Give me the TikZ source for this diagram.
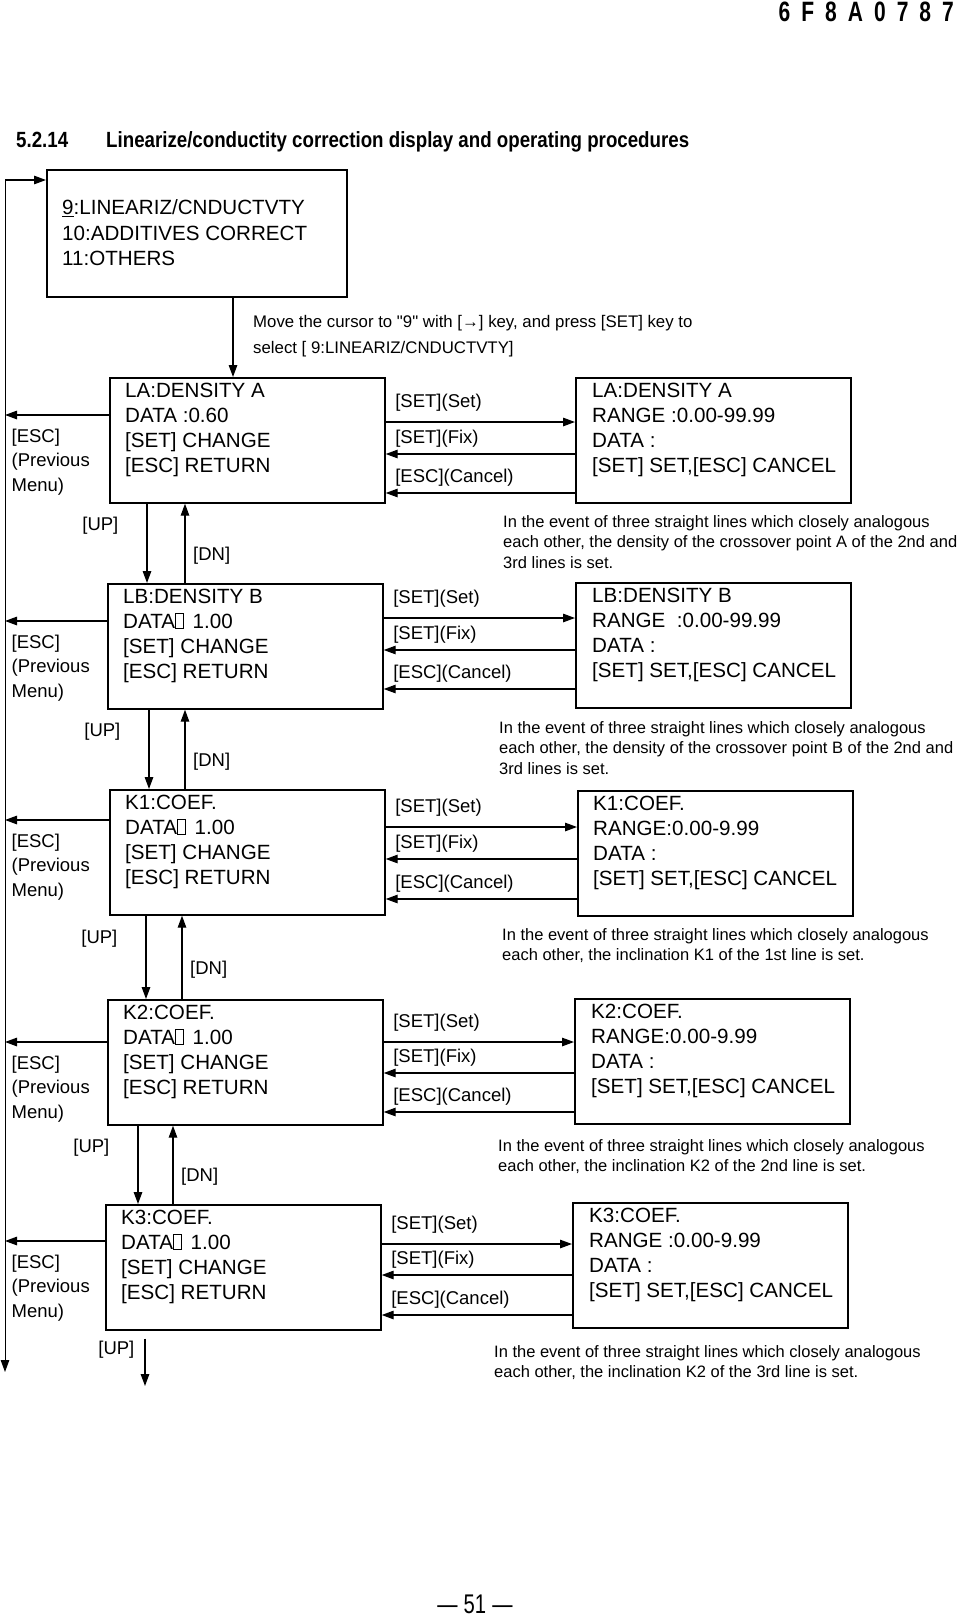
\documentclass[tikz,border=0pt]{standalone}
\usepackage{fontspec}
\setmainfont{Liberation Sans}
\newfontfamily\narrowfont[FakeStretch=0.85]{Liberation Sans}
\newfontfamily\hdrfont[FakeStretch=0.75]{Liberation Sans}
\usetikzlibrary{arrows.meta,positioning}
\newcommand{\tofu}{{\setlength{\fboxsep}{0pt}\setlength{\fboxrule}{0.5pt}\fbox{\rule{0pt}{0.7em}\hspace{0.38em}}}\hspace{0.15em}}
\newcommand{\scrfont}{\fontsize{20.6}{25.3}\selectfont}
\newcommand{\lblfont}{\fontsize{18.5}{24.5}\selectfont}
\newcommand{\notefont}{\fontsize{16.5}{20.6}\selectfont}

\begin{document}
\begin{tikzpicture}[x=1pt,y=-1pt,>={Triangle[length=12pt,width=8.5pt]},line join=miter]
\tikzset{
  screen/.style={draw,line width=1.7pt,anchor=north west,inner sep=0pt,
    minimum width=275pt,minimum height=125pt},
  scrtext/.style={font=\scrfont,align=left,inner sep=0pt},
  key/.style={->,line width=1.3pt},
  keylbl/.style={font=\lblfont,inner sep=0pt,pos=0,anchor=south west,xshift=9pt,yshift=6pt},
  setlbl/.style={yshift=4pt},
  esclbl/.style={font=\lblfont,align=left,inner sep=0pt,pos=1,anchor=north west,xshift=6pt,yshift=-13pt},
  uplbl/.style={font=\lblfont,inner sep=0pt,pos=.28,left=28pt},
  dnlbl/.style={font=\lblfont,inner sep=0pt,pos=.35,right=7.5pt},
  note/.style={font=\notefont,align=left,inner sep=0pt,anchor=north west}
}
\useasboundingbox (0,0) rectangle (956,1616);
% Kopf der Seite
\node[anchor=base east,inner sep=0pt,font=\hdrfont\bfseries\fontsize{28}{30}\selectfont] (docno) at (954,22)
  {\spaceskip=11pt\relax 6 F 8 A 0 7 8 7};
\node[anchor=base west,inner sep=0pt,font=\narrowfont\bfseries\fontsize{22}{26}\selectfont] (secnum) at (16,148) {5.2.14};
\node[anchor=base west,inner sep=0pt,font=\narrowfont\bfseries\fontsize{22}{26}\selectfont] (sectitle) at (106,148)
  {Linearize/conductity correction display and operating procedures};
% Menue und Ruecksprung
\node[screen,minimum width=300pt,minimum height=127pt] (menu) at (46,169) {};
\node[scrtext,below right=30.6pt and 16pt of menu.north west] (menu-t)
  {\underline{9}:LINEARIZ/CNDUCTVTY\\10:ADDITIVES CORRECT\\11:OTHERS};
\coordinate (looptop) at (5,180);
\coordinate (loopbot) at (5,1372);
\draw[key,line width=1pt] (looptop) -- (loopbot);
\draw[key] (looptop) -- (menu.west |- looptop);
\node[note,font=\fontsize{16.8}{25.8}\selectfont] (hint) at (253,315)
  {Move the cursor to \textquotedbl 9\textquotedbl\ with [→] key, and press [SET] key to\\select [ 9:LINEARIZ/CNDUCTVTY]};
% LA
\node[screen] (la) at (109,377) {};
\node[screen] (laR) at (575,377) {};
\node[scrtext,below right=5.5pt and 16pt of la.north west] (la-t)
  {LA:DENSITY A\\DATA :0.60\\{}[SET] CHANGE\\{}[ESC] RETURN};
\node[scrtext,below right=5.5pt and 17pt of laR.north west] (laR-t)
  {LA:DENSITY A\\RANGE :0.00-99.99\\DATA :\\{}[SET] SET,[ESC] CANCEL};
\draw[key] (menu.south -| 233,0) -- (la.north -| 233,0);
\draw[key] (la.east |- 0,422) -- (laR.west |- 0,422) node[keylbl,setlbl] (la-set) {[SET](Set)};
\draw[key,<-] (la.east |- 0,454) -- (laR.west |- 0,454) node[keylbl] (la-fix) {[SET](Fix)};
\draw[key,<-] (la.east |- 0,493) -- (laR.west |- 0,493) node[keylbl] (la-cnc) {[ESC](Cancel)};
\draw[key] (la.west |- 0,415) -- (loopbot |- 0,415) node[esclbl] (la-esc) {[ESC]\\(Previous\\Menu)};
\node[note] (la-note) at (503,515) {In the event of three straight lines which closely analogous\\
  each other, the density of the crossover point A of the 2nd and\\3rd lines is set.};
% LB
\node[screen] (lb) at (107,583) {};
\node[screen] (lbR) at (575,582) {};
\node[scrtext,below right=5.5pt and 16pt of lb.north west] (lb-t)
  {LB:DENSITY B\\DATA\tofu\ 1.00\\{}[SET] CHANGE\\{}[ESC] RETURN};
\node[scrtext,below right=5.5pt and 17pt of lbR.north west] (lbR-t)
  {LB:DENSITY B\\RANGE~~:0.00-99.99\\DATA :\\{}[SET] SET,[ESC] CANCEL};
\draw[key] (la.south -| 147,0) -- (lb.north -| 147,0) node[uplbl] (ab-up) {[UP]};
\draw[key] (lb.north -| 185,0) -- (la.south -| 185,0) node[dnlbl] (ab-dn) {[DN]};
\draw[key] (lb.east |- 0,618) -- (lbR.west |- 0,618) node[keylbl,setlbl] (lb-set) {[SET](Set)};
\draw[key,<-] (lb.east |- 0,650) -- (lbR.west |- 0,650) node[keylbl] (lb-fix) {[SET](Fix)};
\draw[key,<-] (lb.east |- 0,689) -- (lbR.west |- 0,689) node[keylbl] (lb-cnc) {[ESC](Cancel)};
\draw[key] (lb.west |- 0,621) -- (loopbot |- 0,621) node[esclbl] (lb-esc) {[ESC]\\(Previous\\Menu)};
\node[note] (lb-note) at (499,721) {In the event of three straight lines which closely analogous\\
  each other, the density of the crossover point B of the 2nd and\\3rd lines is set.};
% K1
\node[screen] (k1) at (109,789) {};
\node[screen] (k1R) at (577,790) {};
\node[scrtext,below right=5.5pt and 16pt of k1.north west] (k1-t)
  {K1:COEF.\\DATA\tofu\ 1.00\\{}[SET] CHANGE\\{}[ESC] RETURN};
\node[scrtext,below right=5.5pt and 16pt of k1R.north west] (k1R-t)
  {K1:COEF.\\RANGE:0.00-9.99\\DATA :\\{}[SET] SET,[ESC] CANCEL};
\draw[key] (lb.south -| 149,0) -- (k1.north -| 149,0) node[uplbl] (bk-up) {[UP]};
\draw[key] (k1.north -| 185,0) -- (lb.south -| 185,0) node[dnlbl] (bk-dn) {[DN]};
\draw[key] (k1.east |- 0,827) -- (k1R.west |- 0,827) node[keylbl,setlbl] (k1-set) {[SET](Set)};
\draw[key,<-] (k1.east |- 0,859) -- (k1R.west |- 0,859) node[keylbl] (k1-fix) {[SET](Fix)};
\draw[key,<-] (k1.east |- 0,899) -- (k1R.west |- 0,899) node[keylbl] (k1-cnc) {[ESC](Cancel)};
\draw[key] (k1.west |- 0,820) -- (loopbot |- 0,820) node[esclbl] (k1-esc) {[ESC]\\(Previous\\Menu)};
\node[note] (k1-note) at (502,928) {In the event of three straight lines which closely analogous\\
  each other, the inclination K1 of the 1st line is set.};
% K2
\node[screen] (k2) at (107,999) {};
\node[screen] (k2R) at (574,998) {};
\node[scrtext,below right=5.5pt and 16pt of k2.north west] (k2-t)
  {K2:COEF.\\DATA\tofu\ 1.00\\{}[SET] CHANGE\\{}[ESC] RETURN};
\node[scrtext,below right=5.5pt and 17pt of k2R.north west] (k2R-t)
  {K2:COEF.\\RANGE:0.00-9.99\\DATA :\\{}[SET] SET,[ESC] CANCEL};
\draw[key] (k1.south -| 146,0) -- (k2.north -| 146,0) node[uplbl] (kk-up) {[UP]};
\draw[key] (k2.north -| 182,0) -- (k1.south -| 182,0) node[dnlbl] (kk-dn) {[DN]};
\draw[key] (k2.east |- 0,1042) -- (k2R.west |- 0,1042) node[keylbl,setlbl] (k2-set) {[SET](Set)};
\draw[key,<-] (k2.east |- 0,1073) -- (k2R.west |- 0,1073) node[keylbl] (k2-fix) {[SET](Fix)};
\draw[key,<-] (k2.east |- 0,1112) -- (k2R.west |- 0,1112) node[keylbl] (k2-cnc) {[ESC](Cancel)};
\draw[key] (k2.west |- 0,1042) -- (loopbot |- 0,1042) node[esclbl] (k2-esc) {[ESC]\\(Previous\\Menu)};
\node[note] (k2-note) at (498,1139) {In the event of three straight lines which closely analogous\\
  each other, the inclination K2 of the 2nd line is set.};
% K3
\node[screen] (k3) at (105,1204) {};
\node[screen] (k3R) at (572,1202) {};
\node[scrtext,below right=5.5pt and 16pt of k3.north west] (k3-t)
  {K3:COEF.\\DATA\tofu\ 1.00\\{}[SET] CHANGE\\{}[ESC] RETURN};
\node[scrtext,below right=5.5pt and 17pt of k3R.north west] (k3R-t)
  {K3:COEF.\\RANGE :0.00-9.99\\DATA :\\{}[SET] SET,[ESC] CANCEL};
\draw[key] (k2.south -| 138,0) -- (k3.north -| 138,0) node[uplbl] (k23-up) {[UP]};
\draw[key] (k3.north -| 173,0) -- (k2.south -| 173,0) node[dnlbl] (k23-dn) {[DN]};
\draw[key] (k3.east |- 0,1244) -- (k3R.west |- 0,1244) node[keylbl,setlbl] (k3-set) {[SET](Set)};
\draw[key,<-] (k3.east |- 0,1275) -- (k3R.west |- 0,1275) node[keylbl] (k3-fix) {[SET](Fix)};
\draw[key,<-] (k3.east |- 0,1315) -- (k3R.west |- 0,1315) node[keylbl] (k3-cnc) {[ESC](Cancel)};
\draw[key] (k3.west |- 0,1241) -- (loopbot |- 0,1241) node[esclbl] (k3-esc) {[ESC]\\(Previous\\Menu)};
\node[note] (k3-note) at (494,1345) {In the event of three straight lines which closely analogous\\
  each other, the inclination K2 of the 3rd line is set.};
\coordinate (upend) at (145,1386);
\draw[key,shorten <=8pt] (k3.south -| upend) -- (upend) node[font=\lblfont,inner sep=0pt,pos=.34,left=10pt] (k3-up) {[UP]};
% Seitenzahl
\node[anchor=base,inner sep=0pt,font=\hdrfont\fontsize{27}{29}\selectfont] (pageno) at (475,1613)
  {—\hspace{6pt}51\hspace{6pt}—};
\end{tikzpicture}
\end{document}
